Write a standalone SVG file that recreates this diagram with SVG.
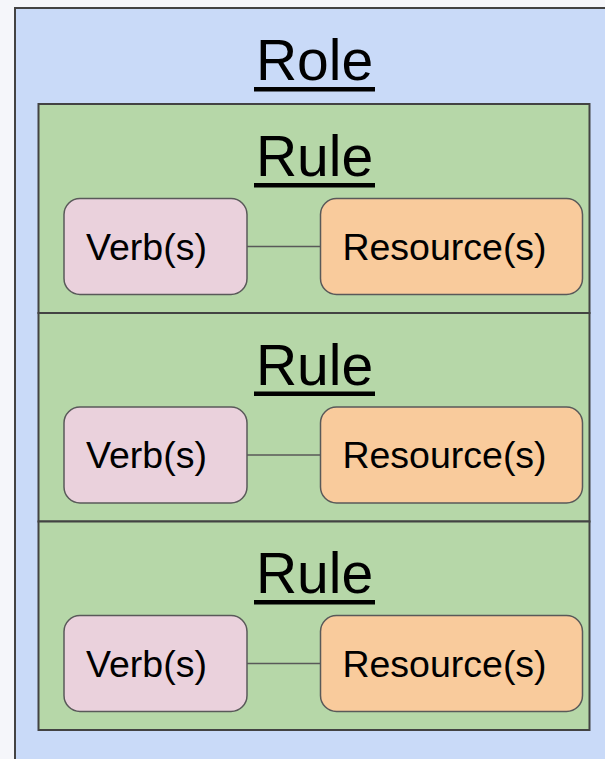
<svg xmlns="http://www.w3.org/2000/svg" width="605" height="759" viewBox="0 0 605 759">
  <style>
    .role { fill: #c9daf8; stroke: #434343; stroke-width: 2; }
    .rule { fill: #b6d7a8; stroke: #434343; stroke-width: 2; }
    .verb { fill: #ead1dc; stroke: #595959; stroke-width: 1.5; }
    .res { fill: #f9cb9c; stroke: #595959; stroke-width: 1.5; }
    .title { font-family: "Liberation Sans", Arial, sans-serif; font-size: 57px; fill: #000; text-anchor: middle; }
    .label { font-family: "Liberation Sans", Arial, sans-serif; font-size: 37.5px; fill: #000; text-anchor: middle; }
    .ul { stroke: #000; stroke-width: 4.5; }
    .conn { stroke: #595959; stroke-width: 1.5; fill: none; }
  </style>
  <rect x="0" y="0" width="605" height="759" fill="#f5f6fa"/>
  <g id="role">
    <rect class="role" x="15" y="8" width="620" height="780"/>
    <text class="title" x="314.5" y="80">Role</text>
    <line class="ul" x1="254" y1="89.2" x2="375" y2="89.2"/>
  </g>
  <g id="rule1">
    <rect class="rule" x="38.5" y="104" width="551" height="209"/>
    <text class="title" x="314.5" y="176">Rule</text>
    <line class="ul" x1="254" y1="185.2" x2="375" y2="185.2"/>
  </g>
  <g id="rule2">
    <rect class="rule" x="38.5" y="313" width="551" height="208.5"/>
    <text class="title" x="314.5" y="384.5">Rule</text>
    <line class="ul" x1="254" y1="393.7" x2="375" y2="393.7"/>
  </g>
  <g id="rule3">
    <rect class="rule" x="38.5" y="521.5" width="551" height="208.5"/>
    <text class="title" x="314.5" y="593">Rule</text>
    <line class="ul" x1="254" y1="602.2" x2="375" y2="602.2"/>
  </g>
  <g id="connectors">
    <line class="conn" x1="247" y1="246.5" x2="320.5" y2="246.5"/>
    <line class="conn" x1="247" y1="455" x2="320.5" y2="455"/>
    <line class="conn" x1="247" y1="663.5" x2="320.5" y2="663.5"/>
  </g>
  <g id="verb1">
    <rect class="verb" x="64" y="198.5" width="183" height="96" rx="16"/>
    <text class="label" x="146.5" y="259.5">Verb(s)</text>
  </g>
  <g id="resource1">
    <rect class="res" x="320.5" y="198.5" width="262" height="96" rx="16"/>
    <text class="label" x="444.5" y="259.5">Resource(s)</text>
  </g>
  <g id="verb2">
    <rect class="verb" x="64" y="407" width="183" height="96" rx="16"/>
    <text class="label" x="146.5" y="468">Verb(s)</text>
  </g>
  <g id="resource2">
    <rect class="res" x="320.5" y="407" width="262" height="96" rx="16"/>
    <text class="label" x="444.5" y="468">Resource(s)</text>
  </g>
  <g id="verb3">
    <rect class="verb" x="64" y="615.5" width="183" height="96" rx="16"/>
    <text class="label" x="146.5" y="676.5">Verb(s)</text>
  </g>
  <g id="resource3">
    <rect class="res" x="320.5" y="615.5" width="262" height="96" rx="16"/>
    <text class="label" x="444.5" y="676.5">Resource(s)</text>
  </g>
</svg>
